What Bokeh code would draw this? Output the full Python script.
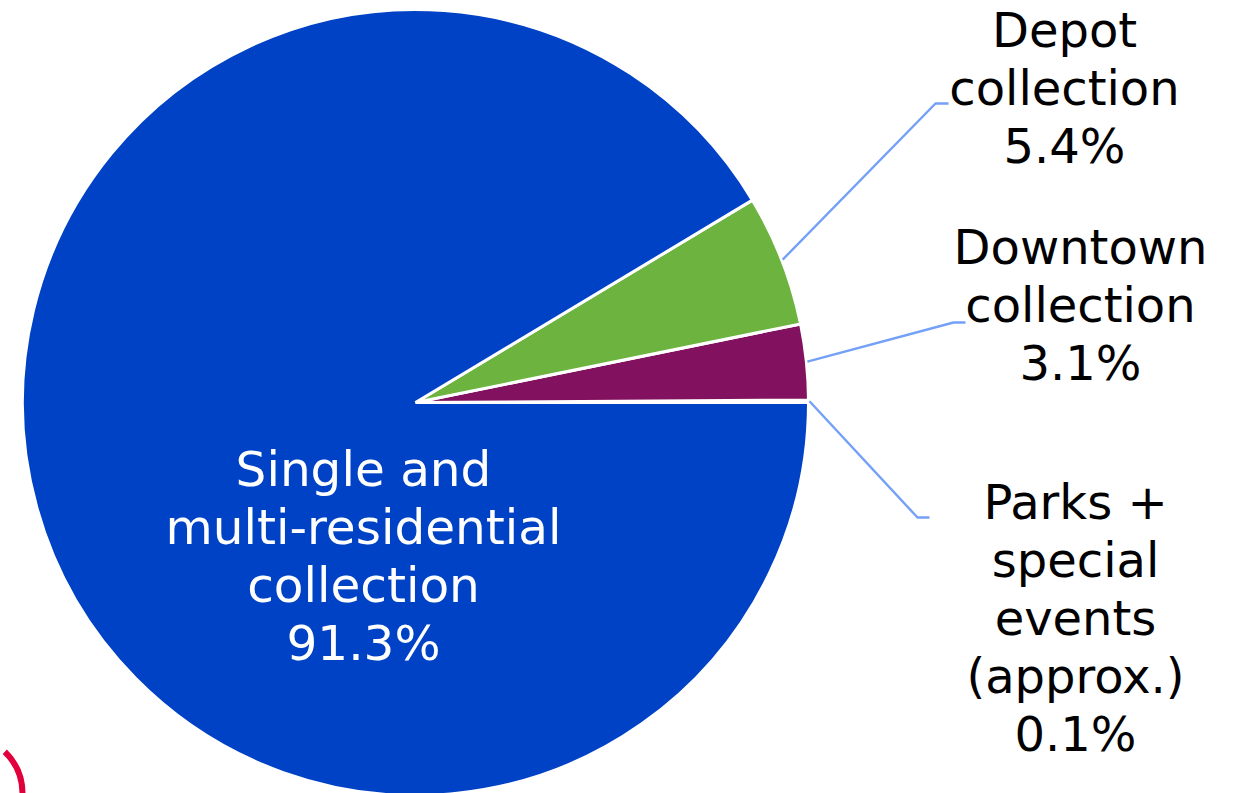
import math
from bokeh.plotting import figure
from bokeh.models import Range1d, ColumnDataSource
from bokeh.core.properties import value
from bokeh.embed import file_html
from bokeh.resources import INLINE

# ---- data ----
categories = ["Parks + special events (approx.)", "Downtown collection",
              "Depot collection", "Single and multi-residential collection"]
shares = [0.1, 3.1, 5.4, 91.3]
colors = ["#3a7bd5", "#82125F", "#6DB33F", "#0042C6"]
label_lines = [
    ["Parks +", "special", "events", "(approx.)", "0.1%"],
    ["Downtown", "collection", "3.1%"],
    ["Depot", "collection", "5.4%"],
    ["Single and", "multi-residential", "collection", "91.3%"],
]

# ---- layout (screen pixel coordinates of the page) ----
PAGE_H = 793
W, H = 1233, 793
CX, CY, R = 415, 402, 393
LINE_STEP = 58.2
TEXT_SHIFT = 17  # renderer places alphabetic baseline lower; compensate
# label centre x, first baseline y, leader elbow (x, y), elbow tail length, font size
label_pos = [
    (1075, 518, (917, 517), 12, "48px"),
    (1080, 263.5, (953, 322), 12, "48px"),
    (1064, 46, (935, 103), 13, "48px"),
    (363, 485, None, 0, "48.5px"),
]
label_colors = ["black", "black", "black", "white"]
leader_color = "#74A0F7"


def sy(y):
    return PAGE_H - y


p = figure(width=W, height=H, output_backend="svg", toolbar_location=None,
           x_range=Range1d(0, W), y_range=Range1d(PAGE_H - H, PAGE_H),
           min_border=0)
p.axis.visible = False
p.grid.visible = False
p.outline_line_color = None
p.background_fill_color = "white"
p.border_fill_color = "white"

# wedges (counter-clockwise from 0 rad)
total = sum(shares)
starts, ends, acc = [], [], 0.0
for s in shares:
    starts.append(2 * math.pi * acc / total)
    acc += s
    ends.append(2 * math.pi * acc / total)

src = ColumnDataSource(dict(start=starts, end=ends, color=colors, cat=categories))
p.wedge(x=CX, y=sy(CY), radius=R, start_angle="start", end_angle="end",
        fill_color="color", line_color="white", line_width=3, source=src)

# leader lines
for i in range(3):
    mid = (starts[i] + ends[i]) / 2
    x0 = CX + (R + 1) * math.cos(mid)
    y0 = sy(CY) + (R + 1) * math.sin(mid)
    (ex, ey), tail = label_pos[i][2], label_pos[i][3]
    p.line([x0, ex, ex + tail], [y0, sy(ey), sy(ey)],
           line_color=leader_color, line_width=2.4)

# labels
for lines, (lx, ly, _, _, fs), col in zip(label_lines, label_pos, label_colors):
    ys = [sy(ly - TEXT_SHIFT + j * LINE_STEP) for j in range(len(lines))]
    p.text(x=[lx] * len(lines), y=ys, text=lines, text_color=col,
           text_font=value("DejaVu Sans"), text_font_size=fs,
           text_align="center", text_baseline="alphabetic")

# stray red curved stroke visible at bottom-left of the source image
p.arc(x=[-36], y=[sy(793)], radius=58, start_angle=0, end_angle=math.radians(46),
      line_color="#E2003C", line_width=6)

open("out.html", "w").write(file_html(p, INLINE))
